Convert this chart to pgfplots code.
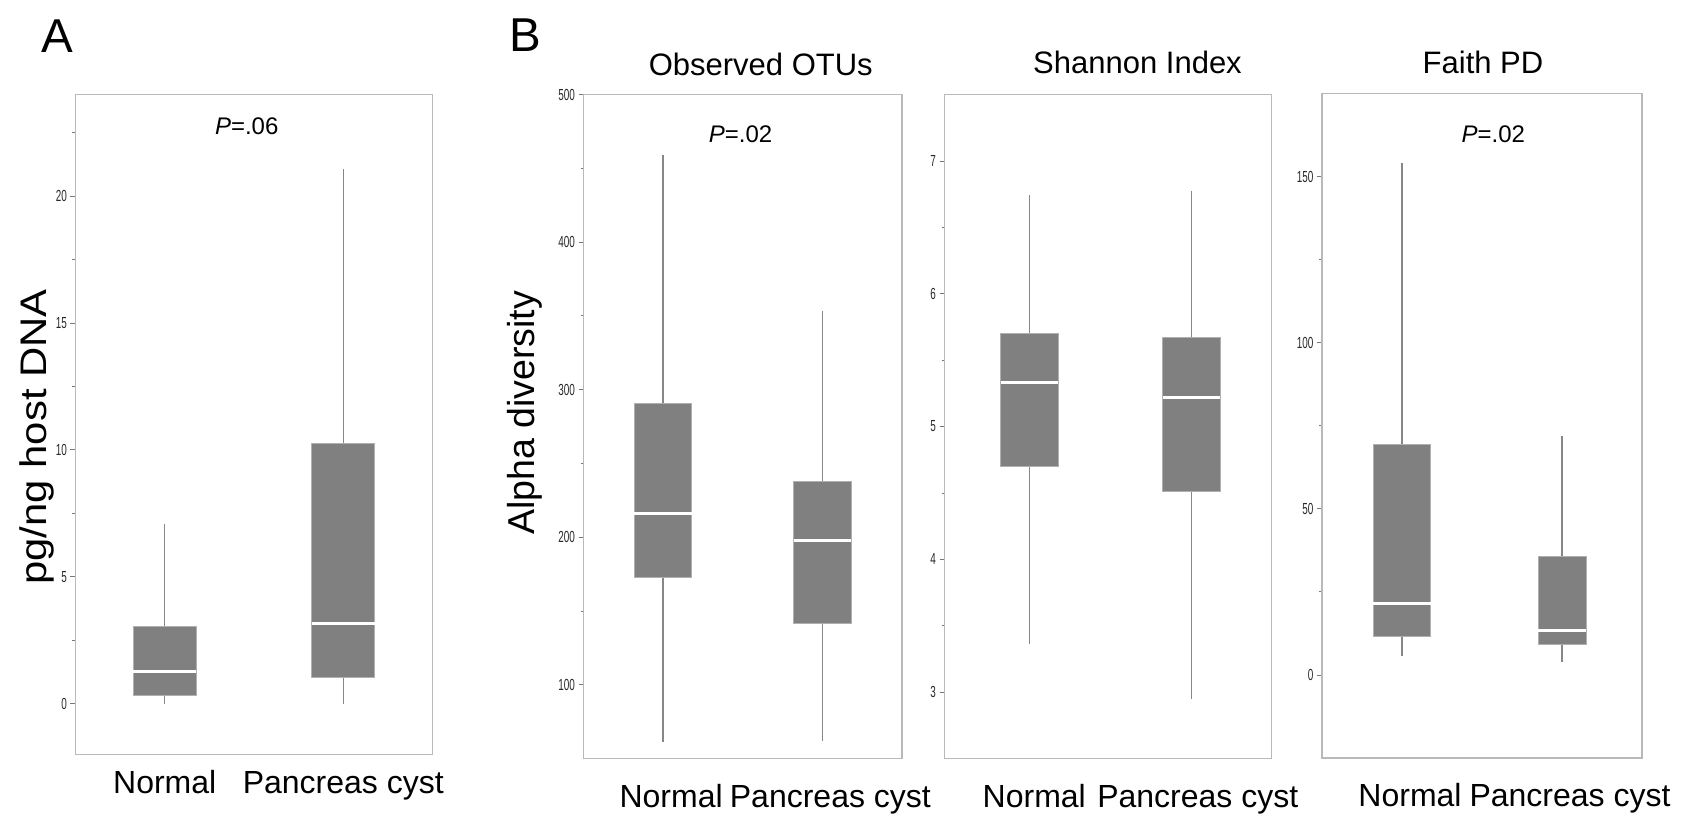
\documentclass[border=0pt]{standalone}
\usepackage{fontspec}
\setmainfont{Liberation Sans}
\usepackage{graphicx}
\usepackage{pgfplots}
\pgfplotsset{compat=1.18}
\usepgfplotslibrary{statistics}

\definecolor{boxgray}{RGB}{128,128,128}
\definecolor{boxedge}{RGB}{176,176,176}
\definecolor{whiskgray}{RGB}{135,135,135}
\definecolor{axisgray}{RGB}{185,185,185}
\definecolor{tickgray}{RGB}{120,120,120}
\definecolor{labelgray}{RGB}{40,40,40}

\pgfplotsset{
  panel/.style={
    scale only axis, anchor=south west, clip=false,
    axis line style={draw=axisgray, line width=1.3pt},
    xmin=0.5, xmax=2.5, xtick={1,2}, xticklabels={Normal, Pancreas cyst},
    major x tick style={draw=none},
    ytick pos=left, tick align=outside,
    major tick length=5pt, minor tick length=3pt,
    y tick style={draw=tickgray, line width=0.8pt},
    /pgf/number format/assume math mode=true,
    yticklabel={\scalebox{0.62}[1]{\pgfmathprintnumber{\tick}}},
    yticklabel style={font=\fontsize{16}{16}\selectfont, text=labelgray},
    xticklabel style={font=\fontsize{32}{32}\selectfont, anchor=base},
    boxplot/draw direction=y,
    boxplot/whisker extend=0,
    boxplot/every box/.style={fill=boxgray, draw=boxedge, line width=1pt},
    boxplot/every median/.style={draw=white, line width=3pt},
    boxplot/every whisker/.style={draw=whiskgray, line width=1.4pt},
  },
  bpanel/.style={panel, xticklabel style={yshift=-43.5pt, xshift=8pt}},
}

\begin{document}
\begin{tikzpicture}
\useasboundingbox (0pt,0pt) rectangle (1683pt,815pt);

% A: host DNA
\begin{axis}[panel, at={(75.5pt,60.5pt)}, width=357pt, height=660pt,
  xticklabel style={yshift=-34pt},
  ymin=-2, ymax=24, ytick={0,5,10,15,20},
  minor ytick={2.5,7.5,12.5,17.5,22.5}]
\addplot[boxplot prepared={draw position=1, lower whisker=0, lower quartile=0.33,
  median=1.26, upper quartile=3.03, upper whisker=7.08, box extend=0.354}] coordinates {};
\addplot[boxplot prepared={draw position=2, lower whisker=0, lower quartile=1.05,
  median=3.18, upper quartile=10.26, upper whisker=21.08, box extend=0.354}] coordinates {};
\end{axis}

% B: observed OTUs
\begin{axis}[bpanel, at={(583.5pt,56.5pt)}, width=318.5pt, height=664pt,
  ymin=50, ymax=500, ytick={100,200,300,400,500},
  minor ytick={150,250,350,450}]
\addplot[boxplot prepared={draw position=1, lower whisker=60.9, lower quartile=172.8,
  median=216.3, upper quartile=290.9, upper whisker=458.7, box extend=0.36}] coordinates {};
\addplot[boxplot prepared={draw position=2, lower whisker=62.2, lower quartile=141.3,
  median=197.9, upper quartile=237.9, upper whisker=353.2, box extend=0.36}] coordinates {};
\end{axis}

% B: Shannon index
\begin{axis}[bpanel, at={(944.5pt,56.5pt)}, width=327pt, height=664pt,
  ymin=2.5, ymax=7.5, ytick={3,4,5,6,7},
  minor ytick={3.5,4.5,5.5,6.5}]
\addplot[boxplot prepared={draw position=1.02, lower whisker=3.36, lower quartile=4.70,
  median=5.33, upper quartile=5.70, upper whisker=6.74, box extend=0.352}] coordinates {};
\addplot[boxplot prepared={draw position=2.01, lower whisker=2.95, lower quartile=4.51,
  median=5.22, upper quartile=5.67, upper whisker=6.77, box extend=0.352}] coordinates {};
\end{axis}

% B: Faith PD
\begin{axis}[bpanel, at={(1322pt,57pt)}, width=320pt, height=664.5pt,
  ymin=-25, ymax=175, ytick={0,50,100,150},
  minor ytick={25,75,125}]
\addplot[boxplot prepared={draw position=1, lower whisker=5.6, lower quartile=11.7,
  median=21.4, upper quartile=69.4, upper whisker=154.1, box extend=0.36}] coordinates {};
\addplot[boxplot prepared={draw position=2, lower whisker=4.0, lower quartile=9.2,
  median=13.3, upper quartile=35.6, upper whisker=72.0, box extend=0.30}] coordinates {};
\end{axis}

% panel letters, titles, p values, axis labels
\node[anchor=base west, inner sep=0, font=\fontsize{47.5}{47.5}\selectfont] at (41pt,762.7pt) {A};
\node[anchor=base west, inner sep=0, font=\fontsize{47.5}{47.5}\selectfont] at (509pt,763.3pt) {B};
\begin{scope}[every node/.style={anchor=base, inner sep=0, font=\fontsize{31}{31}\selectfont}]
\node at (760.8pt,739pt) {Observed OTUs};
\node at (1137.5pt,741pt) {Shannon Index};
\node at (1483pt,741pt) {Faith PD};
\end{scope}
\begin{scope}[every node/.style={anchor=base, inner sep=0, font=\fontsize{24}{24}\selectfont}]
\node at (246.7pt,680pt) {\textit{P}=.06};
\node at (740.6pt,672.5pt) {\textit{P}=.02};
\node at (1493.3pt,672.3pt) {\textit{P}=.02};
\end{scope}
\node[rotate=90, inner sep=0, font=\fontsize{37}{37}\selectfont] at (36.5pt,378pt) {\scalebox{1.13}[1]{pg/ng host DNA}};
\node[rotate=90, inner sep=0, font=\fontsize{37.5}{37.5}\selectfont] at (524.5pt,402pt) {Alpha diversity};
\end{tikzpicture}
\end{document}
